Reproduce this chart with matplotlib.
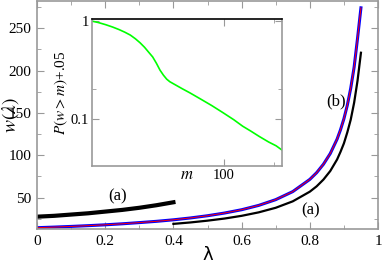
import matplotlib
matplotlib.use("Agg")
import matplotlib.pyplot as plt
from matplotlib.ticker import FixedLocator, MultipleLocator, NullFormatter

plt.rcParams['font.family'] = ['Liberation Serif', 'DejaVu Serif']
plt.rcParams['mathtext.fontset'] = 'stix'

# curve (b): blue with red on top
lam_b = [0.0, 0.05, 0.1, 0.15, 0.2, 0.25, 0.3, 0.35, 0.4, 0.45, 0.5, 0.55, 0.6,
         0.65, 0.7, 0.75, 0.8, 0.82, 0.84, 0.86, 0.88, 0.89, 0.9, 0.91, 0.92,
         0.93, 0.94, 0.95]
w_b = [14.5, 15.2, 16.0, 16.9, 17.9, 19.1, 20.5, 22.0, 23.8, 26.0, 28.6, 31.8, 35.7,
       40.8, 47.6, 57.1, 71.5, 79.4, 89.4, 102.0, 119.0, 130.0, 143.0, 159.0, 179.0,
       204.0, 238.0, 274.0]

# curve (a), thin part from 0.4
lam_a = [0.4, 0.45, 0.5, 0.55, 0.6, 0.65, 0.7, 0.75, 0.8, 0.82, 0.84, 0.86,
         0.88, 0.89, 0.9, 0.91, 0.92, 0.93, 0.94, 0.95]
w_a = [19.0, 20.7, 22.8, 25.3, 28.5, 32.6, 38.0, 45.6, 57.0, 63.3, 71.3, 81.4,
       95.0, 104.0, 114.0, 127.0, 142.0, 162.0, 188.0, 221.0]

# curve (a), thick noisy part up to 0.4
lam_a0 = [0.0, 0.05, 0.1, 0.15, 0.2, 0.25, 0.3, 0.35, 0.4]
w_a0 = [27.5, 28.5, 30.0, 31.5, 33.5, 35.5, 38.0, 41.0, 44.5]

# inset distribution
m_vals = [16.6, 18, 20, 22, 24, 26, 28, 30, 32, 34, 36, 38, 40, 42, 44, 46, 48,
          52, 57, 63, 72, 85, 99, 115, 130, 145, 163, 185, 205, 222]
P_vals = [1.0, 0.97, 0.92, 0.87, 0.82, 0.77, 0.72, 0.66, 0.60, 0.54, 0.48, 0.43,
          0.37, 0.315, 0.28, 0.255, 0.24, 0.222, 0.203, 0.185, 0.162, 0.137, 0.116,
          0.098, 0.084, 0.075, 0.066, 0.058, 0.053, 0.048]

grey = '#999999'

fig = plt.figure(figsize=(3.82, 2.65), dpi=100)
ax = fig.add_axes([0.097, 0.136, 0.8925, 0.86])

ax.plot(lam_a0, w_a0, color='black', lw=3)
ax.plot(lam_a, w_a, color='black', lw=1.6)
ax.plot(lam_b, w_b, color='blue', lw=2.2)
ax.plot(lam_b, w_b, color='red', lw=0.7)

ax.set_xlim(0, 1)
ax.set_ylim(13, 282)
ax.xaxis.set_minor_locator(MultipleLocator(0.1))
ax.yaxis.set_major_locator(FixedLocator([50, 100, 150, 200, 250]))
ax.yaxis.set_minor_locator(FixedLocator([25, 75, 125, 175, 225, 275]))
ax.set_xticks([0, 0.2, 0.4, 0.6, 0.8, 1])
ax.set_xticklabels(['0', '0.2', '0.4', '0.6', '0.8', '1'])
ax.tick_params(which='both', direction='in', top=True, right=True, color=grey,
               labelsize=11, pad=4)
ax.tick_params(which='major', length=5)
ax.tick_params(which='minor', length=3)
for s in ax.spines.values():
    s.set_color(grey)
    s.set_linewidth(1.2)

ax.set_xlabel('λ', family='DejaVu Sans', fontsize=13, labelpad=-1)
ax.set_ylabel(r'$w(\lambda)$', fontsize=14, va='center')
ax.yaxis.set_label_coords(-0.078, 0.5)

ax.text(0.235, 51, '(a)', fontsize=12, ha='center', va='center')
ax.text(0.803, 35, '(a)', fontsize=12, ha='center', va='center')
ax.text(0.877, 163, '(b)', fontsize=12, ha='center', va='center')

# inset
ins = fig.add_axes([0.241, 0.374, 0.497, 0.554])
ins.plot(m_vals, P_vals, color='#00ff00', lw=1.2)
ins.set_xscale('log')
ins.set_yscale('log')
ins.set_xlim(16.6, 222)
ins.set_ylim(0.033, 1.05)
ins.xaxis.set_major_locator(FixedLocator([100]))
ins.xaxis.set_minor_locator(FixedLocator([200]))
ins.xaxis.set_minor_formatter(NullFormatter())
ins.set_xticklabels(['100'])
ins.yaxis.set_major_locator(FixedLocator([0.1, 1]))
ins.yaxis.set_minor_locator(FixedLocator([0.2]))
ins.yaxis.set_minor_formatter(NullFormatter())
ins.set_yticklabels(['0.1', '1'])
ins.tick_params(which='both', direction='in', top=True, right=True, color=grey,
                labelsize=10.5, pad=2)
ins.tick_params(which='major', length=5)
ins.tick_params(which='minor', length=3)
for s in ins.spines.values():
    s.set_color(grey)
    s.set_linewidth(1.2)
ins.spines['top'].set_color('black')
ins.set_xlabel(r'$m$', fontsize=12)
ins.xaxis.set_label_coords(0.5, -0.005)
ins.set_ylabel(r'$P(w>m)$+.05', fontsize=11, labelpad=1)

fig.savefig('out.png', dpi=100)
